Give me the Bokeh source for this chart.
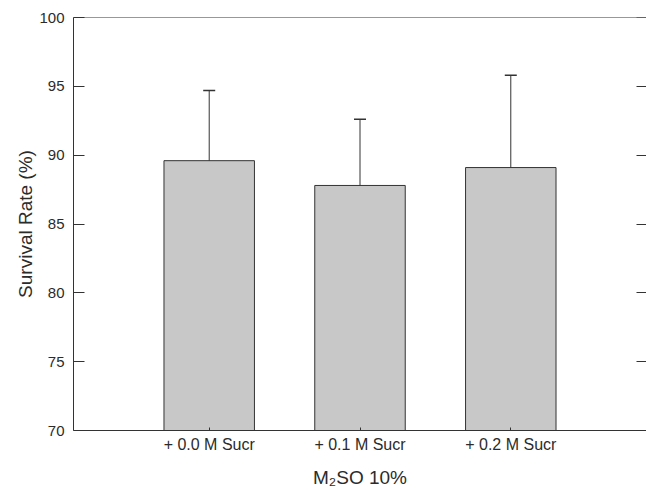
from bokeh.plotting import figure
from bokeh.models import (ColumnDataSource, FactorRange, Range1d, Whisker, TeeHead,
                          LinearAxis, FixedTicker)
from bokeh.embed import file_html
from bokeh.resources import INLINE

# ---- data ----
categories = ["+ 0.0 M Sucr", "+ 0.1 M Sucr", "+ 0.2 M Sucr"]
survival = [89.6, 87.8, 89.1]
sd = [5.1, 4.8, 6.7]
y_ticks = [70, 75, 80, 85, 90, 95, 100]
y_start, y_end = 70, 100
x_pad = 0.4

FONT = "Liberation Sans"
TXT = "#2b2b2b"
LINE = "#333333"

src = ColumnDataSource(dict(
    cat=categories,
    val=survival,
    upper=[v + e for v, e in zip(survival, sd)],
))

p = figure(
    width=646, height=490,
    x_range=FactorRange(factors=categories, range_padding=x_pad, range_padding_units="absolute"),
    y_range=Range1d(y_start, y_end),
    output_backend="svg", toolbar_location=None,
    min_border_left=73, min_border_right=0, min_border_top=17, min_border_bottom=0,
)
p.background_fill_color = "white"
p.border_fill_color = "white"
p.outline_line_color = None
p.xgrid.visible = False
p.ygrid.visible = False

p.vbar(x="cat", top="val", bottom=y_start, width=0.6, source=src,
       fill_color="#c8c8c8", line_color=LINE, line_width=1)

w = Whisker(base="cat", lower="val", upper="upper", source=src, dimension="height",
            line_color=LINE, line_width=1,
            upper_head=TeeHead(size=12, line_color=LINE, line_width=1.5),
            lower_head=None, level="glyph")
p.add_layout(w)

# y axis
ya = p.yaxis[0]
ya.ticker = FixedTicker(ticks=y_ticks)
ya.axis_label = "Survival Rate (%)"
ya.axis_label_text_font = FONT
ya.axis_label_text_font_style = "normal"
ya.axis_label_text_font_size = "19px"
ya.axis_label_text_color = TXT
ya.axis_label_standoff = 0
ya.major_label_text_font = FONT
ya.major_label_text_font_size = "15px"
ya.major_label_text_color = TXT
ya.major_label_standoff = 9
ya.major_tick_in = 11
ya.major_tick_out = 0
ya.minor_tick_in = 0
ya.minor_tick_out = 0
ya.axis_line_color = LINE
ya.major_tick_line_color = LINE

# x axis
xa = p.xaxis[0]
xa.axis_label = "M₂SO 10%"
xa.axis_label_text_font = FONT
xa.axis_label_text_font_style = "normal"
xa.axis_label_text_font_size = "19px"
xa.axis_label_text_color = TXT
xa.axis_label_standoff = 11
xa.major_label_text_font = FONT
xa.major_label_text_font_size = "16px"
xa.major_label_text_color = TXT
xa.major_label_standoff = 5
xa.major_tick_in = 3
xa.major_tick_out = 0
xa.axis_line_color = LINE
xa.major_tick_line_color = LINE

# right-side inward ticks (fixed at the frame edge, takes no panel space)
ra = LinearAxis(ticker=FixedTicker(ticks=y_ticks), fixed_location=len(categories) + x_pad)
ra.major_tick_in = 10
ra.major_tick_out = 0
ra.minor_tick_in = 0
ra.minor_tick_out = 0
ra.major_label_text_font_size = "0px"
ra.major_label_standoff = 0
ra.axis_line_color = None
ra.major_tick_line_color = LINE
p.add_layout(ra, "right")

# top border line
ta = LinearAxis(ticker=FixedTicker(ticks=[]), fixed_location=y_end)
ta.major_tick_in = 0
ta.major_tick_out = 0
ta.minor_tick_in = 0
ta.minor_tick_out = 0
ta.major_label_text_font_size = "0px"
ta.axis_line_color = LINE
p.add_layout(ta, "above")

open("out.html", "w").write(file_html(p, INLINE))
